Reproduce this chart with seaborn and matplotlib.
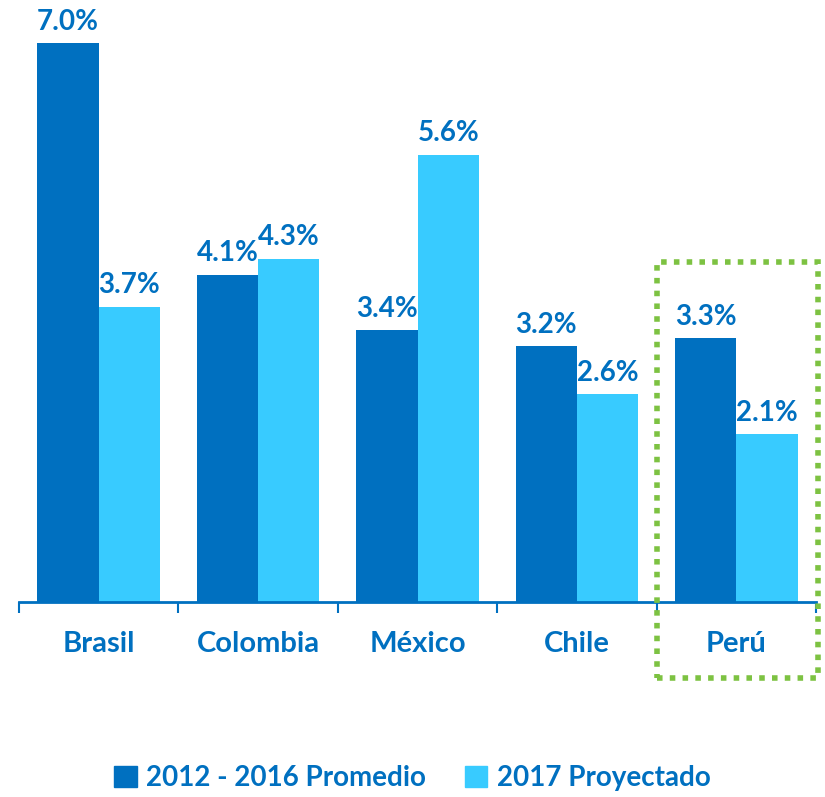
import matplotlib
matplotlib.use("Agg")

import matplotlib.pyplot as plt
import pandas as pd
import seaborn as sns
from matplotlib.patches import Rectangle

# ---------------------------------------------------------------
# Data
# ---------------------------------------------------------------
countries = ["Brasil", "Colombia", "México", "Chile", "Perú"]
series_names = ["2012 - 2016 Promedio", "2017 Proyectado"]
avg_2012_2016 = [7.0, 4.1, 3.4, 3.2, 3.3]
proj_2017 = [3.7, 4.3, 5.6, 2.6, 2.1]

_BLUE = "#0070C0"
_LIGHT = "#38CBFF"
_GREEN = "#7DC242"

df = pd.DataFrame({
    "country": countries * 2,
    "series": [series_names[0]] * len(countries) + [series_names[1]] * len(countries),
    "value": avg_2012_2016 + proj_2017,
})

sns.set_theme(style="white")
plt.rcParams["font.family"] = ["Lato", "DejaVu Sans"]

fig = plt.figure(figsize=(8.25, 7.97), dpi=100)
ax = fig.add_axes([19 / 825, 195 / 797, 797 / 825, 602 / 797])

sns.barplot(
    data=df, x="country", y="value", hue="series",
    palette=[_BLUE, _LIGHT], width=0.77, gap=0,
    edgecolor="none", saturation=1, legend=False, ax=ax,
)

for cont in ax.containers:
    ax.bar_label(cont, labels=[f"{v:.1f}%" for v in cont.datavalues],
                 padding=6, color=_BLUE, fontsize=20, fontweight="bold")

ax.set_xlim(-0.5, len(countries) - 0.5)
ax.set_ylim(0, 7.0 * 602 / 559)
ax.set_xlabel("")
ax.set_ylabel("")
ax.set_yticks([])
for side in ["top", "right", "left"]:
    ax.spines[side].set_visible(False)
ax.spines["bottom"].set_color(_BLUE)
ax.spines["bottom"].set_linewidth(2)

# category labels under the groups, ticks at the group boundaries
ax.set_xticks(range(len(countries)))
ax.set_xticklabels(countries, color=_BLUE, fontsize=21, fontweight="bold")
ax.tick_params(axis="x", which="major", length=0, pad=21)
ax.set_xticks([i - 0.5 for i in range(len(countries) + 1)], minor=True)
ax.tick_params(axis="x", which="minor", length=8, width=1.5, color=_BLUE,
               direction="out", bottom=True)

# dotted highlight around Perú
ax.add_patch(Rectangle((3.5, -0.95), 1.01, 5.21, fill=False,
                       edgecolor=_GREEN, linewidth=4, linestyle=(0, (1, 1.3)),
                       clip_on=False, zorder=5))

handles = [Rectangle((0, 0), 1, 1, color=c) for c in [_BLUE, _LIGHT]]
leg = fig.legend(handles, series_names, loc="center", bbox_to_anchor=(0.5, 19 / 797),
                 ncol=2, frameon=False, handlelength=0.8, handleheight=0.8,
                 handletextpad=0.35, columnspacing=1.4,
                 prop={"size": 20, "weight": "bold"})
for t in leg.get_texts():
    t.set_color(_BLUE)

fig.savefig("out.png", dpi=100, facecolor="white")
